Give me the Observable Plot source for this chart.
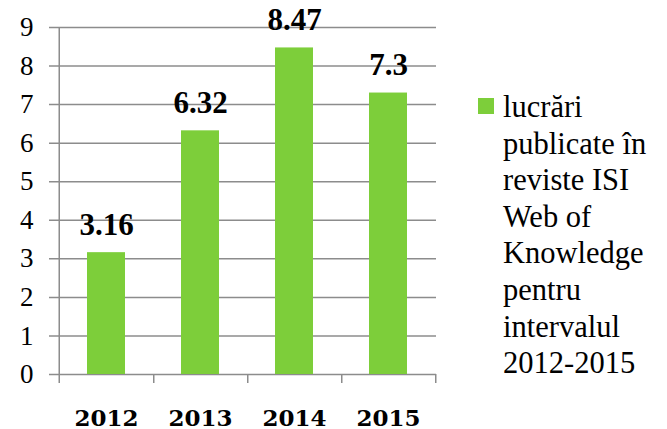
<!DOCTYPE html>
<html>
<head>
<meta charset="utf-8">
<script src="https://cdn.jsdelivr.net/npm/d3@7"></script>
<script src="https://cdn.jsdelivr.net/npm/@observablehq/plot@0.6"></script>
<style>
  body { margin: 0; background: #fff; }
  #wrap { position: relative; width: 667px; height: 429px; background: #fff; }
  #legend { position: absolute; left: 478px; top: 89px; font-family: 'Liberation Serif'; font-size: 30.5px; line-height: 36.6px; color: #000; }
  #legend .sw { position: absolute; left: 0; top: 9px; width: 16px; height: 16px; }
  #legend .txt { margin-left: 25px; white-space: nowrap; }
</style>
</head>
<body>
<div id="wrap"></div>
<script>
const years = ["2012", "2013", "2014", "2015"];
const values = [3.16, 6.32, 8.47, 7.3];
const valueLabels = ["3.16", "6.32", "8.47", "7.3"];
const yTicks = [0, 1, 2, 3, 4, 5, 6, 7, 8, 9];
const legendLines = ["lucrări", "publicate în", "reviste ISI", "Web of", "Knowledge", "pentru", "intervalul", "2012-2015"];
const barColor = "#7DCE3A";
const gridColor = "#8c8c8c";
const serif = "Liberation Serif";

const data = years.map((y, i) => ({year: y, value: values[i], label: valueLabels[i]}));

const marginLeft = 58, marginRight = 231, width = 667;
const step = (width - marginLeft - marginRight) / years.length;

const chart = Plot.plot({
  width: width,
  height: 429,
  marginLeft, marginRight,
  marginTop: 27,
  marginBottom: 55,
  style: {background: "white", color: "black"},
  x: {domain: years, paddingInner: 0.6, paddingOuter: 0.3, axis: null},
  y: {domain: [0, 9], axis: null},
  marks: [
    Plot.ruleY(yTicks, {y: d => d, stroke: gridColor, strokeWidth: 1.5, insetLeft: -9}),
    Plot.ruleX([years[0]], {x: d => d, dx: -step / 2, stroke: gridColor, strokeWidth: 1.5, insetBottom: -9}),
    Plot.ruleX(years, {x: d => d, y1: 0, dx: step / 2, stroke: gridColor, strokeWidth: 1.5, insetBottom: -9}),
    Plot.barY(data, {x: "year", y: "value", fill: barColor}),
    Plot.text(yTicks, {y: d => d, text: d => String(d), frameAnchor: "left", textAnchor: "end", dx: -25, fontSize: 27, fontFamily: serif, fill: "black"}),
    Plot.text(data, {x: "year", y: "value", text: "label", dy: -18, lineAnchor: "bottom", fontWeight: "bold", fontSize: 31, fontFamily: serif, fill: "black"}),
    Plot.text(years, {x: d => d, y: 0, text: d => d, dy: 51, lineAnchor: "bottom", fontWeight: "bold", fontSize: 23, fontFamily: "DejaVu Serif", fill: "black"})
  ]
});

const wrap = document.getElementById("wrap");
wrap.appendChild(chart);
const legend = document.createElement("div");
legend.id = "legend";
const sw = document.createElement("div");
sw.className = "sw";
sw.style.background = barColor;
legend.appendChild(sw);
const txt = document.createElement("div");
txt.className = "txt";
txt.innerHTML = legendLines.join("<br>");
legend.appendChild(txt);
wrap.appendChild(legend);
</script>
</body>
</html>
